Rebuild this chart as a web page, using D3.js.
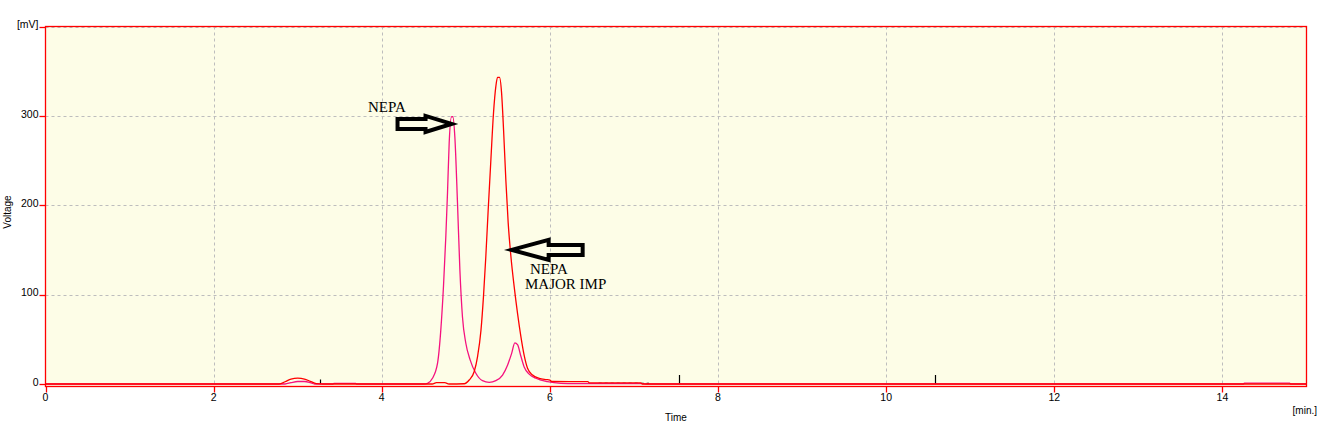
<!DOCTYPE html>
<html>
<head>
<meta charset="utf-8">
<script src="https://cdn.jsdelivr.net/npm/d3@7"></script>
<style>
  html, body { margin: 0; padding: 0; background: #ffffff; }
  svg { display: block; }
  text { font-family: "Liberation Sans", Arial, sans-serif; fill: #000; }
</style>
</head>
<body>
<svg id="chart" width="1331" height="425"></svg>
<script>
// ---------------- DATA ----------------
const xTicks = [0, 2, 4, 6, 8, 10, 12, 14];
const yTicks = [0, 100, 200, 300, 400];
const yTickLabels = ["0", "100", "200", "300", "[mV]"];

// red trace (time in min, voltage in mV)
const redTime = [0, 2.78, 2.85, 2.92, 3.0, 3.08, 3.15, 3.22, 3.3, 4.6, 4.65, 4.75, 4.8, 4.98, 5.04, 5.10, 5.14, 5.18, 5.21, 5.238, 5.266, 5.298, 5.329, 5.357, 5.377, 5.401, 5.425, 5.449, 5.476, 5.504, 5.536, 5.575, 5.615, 5.655, 5.694, 5.734, 5.794, 5.873, 5.95, 6.0, 6.02, 6.45, 6.47, 7.08, 7.1, 15];
const redVolt = [0, 0, 2.5, 5.5, 6.5, 5.5, 3, 0.5, 0, 0, 1.5, 1.5, 0, 0.3, 4.5, 14, 31, 60, 98, 143, 195, 251, 303, 333, 343, 343, 326, 284, 228, 180, 143, 109, 79, 53, 32, 17.6, 10, 6.4, 5, 4.4, 2.8, 2.6, 1.3, 1.2, 0, 0];

// pink trace
const pinkTime = [0, 2.85, 2.92, 3.0, 3.08, 3.15, 3.2, 3.42, 3.43, 3.69, 3.7, 4.5, 4.544, 4.603, 4.663, 4.702, 4.734, 4.762, 4.782, 4.802, 4.830, 4.845, 4.869, 4.901, 4.929, 4.960, 5.0, 5.051, 5.119, 5.198, 5.278, 5.357, 5.437, 5.496, 5.544, 5.583, 5.615, 5.655, 5.694, 5.754, 5.833, 5.972, 6.13, 6.3, 7.1, 7.15, 14.25, 14.26, 14.8, 14.81, 15];
const pinkVolt = [0, 0, 1.5, 2.8, 2.8, 1.5, 0, 0, 0.8, 0.8, 0, 0, 0.8, 6.4, 23, 60, 109, 165, 214, 270, 299, 299, 277, 202, 128, 75, 45.6, 27, 12, 3.7, 1.9, 3.7, 10, 21, 34, 46, 44, 31, 19, 11, 6.4, 2.6, 0.8, 0.5, 0.5, 0, 0, 1, 1, 0, 0];

// event markers (time, height in mV)
const markerTime = [3.27, 7.54, 10.58];
const markerHeight = [5, 10, 10];

// annotations
const annotTexts = [["NEPA"], ["NEPA", "MAJOR IMP"]];
const annotTextPos = [[3.836, 304], [5.763, 123]];        // (min, mV) of first line baseline start
const arrowTip = [[4.83, 291], [5.545, 150]];             // (min, mV)
const arrowDir = ["right", "left"];

// ---------------- CHART ----------------
const svg = d3.select("#chart");
const pLeft = 45.5, pRight = 1306.5, pTop = 26.5, pBottom = 386.5;

const x = d3.scaleLinear().domain([0, 15]).range([pLeft, pRight]);
const y = d3.scaleLinear().domain([-2.8, 400]).range([pBottom, pTop]);

// plot background
svg.append("rect")
  .attr("x", pLeft).attr("y", pTop)
  .attr("width", pRight - pLeft).attr("height", pBottom - pTop)
  .attr("fill", "#fdfde7");

// grid
const grid = svg.append("g");
grid.selectAll(".vg").data(xTicks.filter(d => d > 0)).enter().append("line")
  .attr("x1", d => Math.round(x(d)) + 0.5).attr("x2", d => Math.round(x(d)) + 0.5)
  .attr("y1", pTop).attr("y2", pBottom)
  .attr("stroke", "#bdbdbd").attr("stroke-dasharray", "3,3").attr("stroke-width", 1);
grid.selectAll(".hg").data(yTicks.filter(d => d > 0)).enter().append("line")
  .attr("x1", pLeft).attr("x2", pRight)
  .attr("y1", d => Math.round(y(d)) + 0.5).attr("y2", d => Math.round(y(d)) + 0.5)
  .attr("stroke", "#bdbdbd").attr("stroke-dasharray", "3,3").attr("stroke-width", 1);

// clip
svg.append("clipPath").attr("id", "clip").append("rect")
  .attr("x", pLeft).attr("y", pTop).attr("width", pRight - pLeft).attr("height", pBottom - pTop);

const plot = svg.append("g").attr("clip-path", "url(#clip)");

// markers
plot.selectAll(".mk").data(markerTime).enter().append("line")
  .attr("x1", d => Math.round(x(d)) + 0.5).attr("x2", d => Math.round(x(d)) + 0.5)
  .attr("y1", y(0)).attr("y2", (d, i) => y(markerHeight[i]))
  .attr("stroke", "#000").attr("stroke-width", 1.2);

// dotted dark segment on baseline
plot.append("line")
  .attr("x1", x(6.58)).attr("x2", x(7.18))
  .attr("y1", y(0.6)).attr("y2", y(0.6))
  .attr("stroke", "#000").attr("stroke-width", 1.3).attr("stroke-dasharray", "3,3");

const line = d3.line().x(d => x(d[0])).y(d => y(d[1])).curve(d3.curveMonotoneX);

const pinkData = pinkTime.map((t, i) => [t, pinkVolt[i]]);
const redData = redTime.map((t, i) => [t, redVolt[i]]);

plot.append("path").datum(pinkData).attr("d", line)
  .attr("fill", "none").attr("stroke", "#f5127f").attr("stroke-width", 1.3);
plot.append("path").datum(redData).attr("d", line)
  .attr("fill", "none").attr("stroke", "#ff0000").attr("stroke-width", 1.3);

// frame
svg.append("rect")
  .attr("x", pLeft).attr("y", pTop)
  .attr("width", pRight - pLeft).attr("height", pBottom - pTop)
  .attr("fill", "none").attr("stroke", "#ff0000").attr("stroke-width", 1.3);

// y axis ticks
const yAxis = svg.append("g");
yAxis.selectAll("line").data(yTicks).enter().append("line")
  .attr("x1", pLeft - 6).attr("x2", pLeft)
  .attr("y1", d => Math.round(y(d)) + 0.5).attr("y2", d => Math.round(y(d)) + 0.5)
  .attr("stroke", "#ff0000").attr("stroke-width", 1.3);
yAxis.selectAll("text").data(yTicks).enter().append("text")
  .attr("x", pLeft - 7).attr("y", d => y(d) - 1)
  .attr("text-anchor", "end").attr("dominant-baseline", "middle")
  .style("font-size", "10.5px")
  .text((d, i) => yTickLabels[i]);

// x axis ticks
const xAxis = svg.append("g");
xAxis.selectAll("line").data(xTicks).enter().append("line")
  .attr("x1", d => Math.round(x(d)) + 0.5).attr("x2", d => Math.round(x(d)) + 0.5)
  .attr("y1", pBottom).attr("y2", pBottom + 6)
  .attr("stroke", "#ff0000").attr("stroke-width", 1.3);
xAxis.selectAll("text").data(xTicks).enter().append("text")
  .attr("x", d => x(d)).attr("y", pBottom + 12)
  .attr("text-anchor", "middle").attr("dominant-baseline", "middle")
  .style("font-size", "10.5px")
  .text(d => d);

// axis titles
svg.append("text").attr("x", 1317).attr("y", 411)
  .attr("text-anchor", "end").attr("dominant-baseline", "middle")
  .style("font-size", "10px").text("[min.]");
svg.append("text").attr("x", 676).attr("y", 418)
  .attr("text-anchor", "middle").attr("dominant-baseline", "middle")
  .style("font-size", "10px").text("Time");
svg.append("text")
  .attr("transform", "translate(8,212) rotate(-90)")
  .attr("text-anchor", "middle").attr("dominant-baseline", "middle")
  .style("font-size", "10px").text("Voltage");

// annotations
const ann = svg.append("g");
annotTexts.forEach((lines, k) => {
  const tx = x(annotTextPos[k][0]), ty = y(annotTextPos[k][1]);
  lines.forEach((s, j) => {
    ann.append("text")
      .attr("x", tx + (k === 1 && j === 1 ? -5 : 0))
      .attr("y", ty + j * 14.5)
      .style("font-family", "'Liberation Serif', 'Times New Roman', serif")
      .style("font-size", "15px")
      .text(s);
  });
});

function arrowPath(tx, ty, dir) {
  const s = dir === "right" ? -1 : 1;
  const headLen = dir === "right" ? 26 : 37;
  const totalLen = dir === "right" ? 54 : 71;
  const headHalf = dir === "right" ? 8 : 10;
  const shaftHalf = 5;
  const pts = [
    [0, 0],
    [s * headLen, -headHalf],
    [s * headLen, -shaftHalf],
    [s * totalLen, -shaftHalf],
    [s * totalLen, shaftHalf],
    [s * headLen, shaftHalf],
    [s * headLen, headHalf]
  ];
  return "M" + pts.map(p => [tx + p[0], ty + p[1]].join(",")).join("L") + "Z";
}
arrowTip.forEach((p, k) => {
  ann.append("path")
    .attr("d", arrowPath(x(p[0]), y(p[1]), arrowDir[k]))
    .attr("fill", "none").attr("stroke", "#000").attr("stroke-width", 4)
    .attr("stroke-linejoin", "miter");
});
</script>
</body>
</html>
